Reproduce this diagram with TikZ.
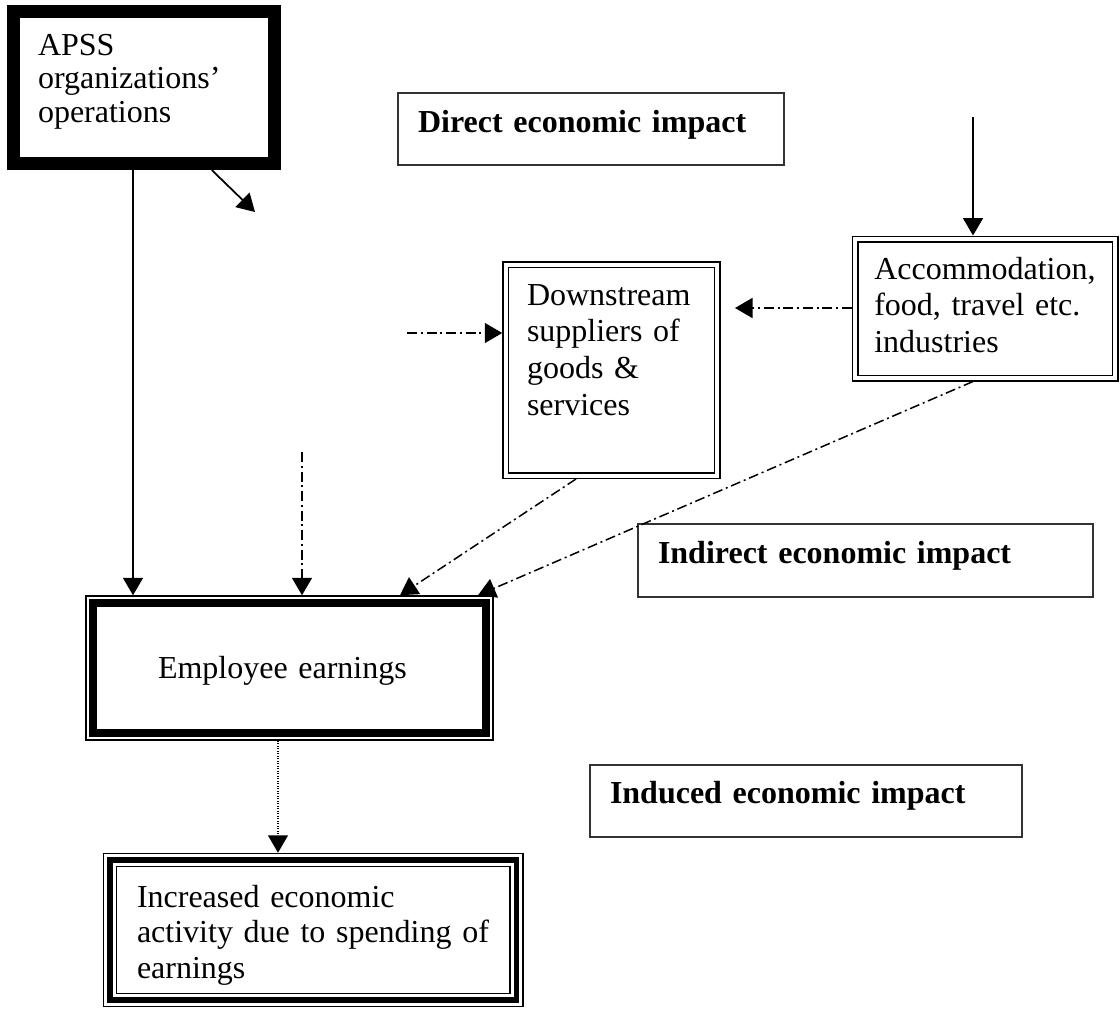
\documentclass[tikz,border=0pt]{standalone}
\usepackage{fontspec}
\setmainfont{Liberation Serif}
\usetikzlibrary{arrows.meta,calc}
\hyphenpenalty=10000
\begin{document}
\begin{tikzpicture}[x=0.4pt,y=-0.4pt,
  box/.style={rectangle, draw=black, anchor=base west, inner ysep=0pt, align=left,
    font=\fontsize{12.8pt}{14.6pt}\selectfont},
  lbl/.style={box, draw=black!80, line width=0.6pt, inner xsep=8pt,
    font=\fontsize{12.8pt}{14.6pt}\selectfont\bfseries},
  conn/.style={line width=0.7pt, -{Triangle[length=7pt,width=8pt]}},
  dd/.style={conn, line width=0.6pt, dash pattern=on 4pt off 1.5pt on 0.8pt off 1.5pt},
  dotconn/.style={conn, line width=0.6pt, dash pattern=on 0.4pt off 0.6pt}]
\useasboundingbox (0,0) rectangle (1120,1008);

% boxes
\node[box, line width=5.2pt, inner xsep=9.8pt, text width=84.6pt, text height=17.4pt, text depth=43.4pt,
  font=\fontsize{12.8pt}{13.4pt}\selectfont] (apss) at (7,55) {APSS\\organizations'\\operations};

\node[lbl, text width=138.4pt, text height=15.6pt, text depth=13.2pt] (direct) at (397.25,132) {Direct economic impact};

\node[box, double, double distance=1.6pt, line width=0.6pt, outer sep=1.4pt, inner xsep=8.5pt,
  text width=67.6pt, text height=16.1pt, text depth=68.2pt,
  font=\fontsize{12.8pt}{14.7pt}\selectfont] (ds) at (502.25,305) {Downstream\\suppliers of\\goods \&\\services};

\node[box, double, double distance=1.6pt, line width=0.6pt, outer sep=1.4pt, inner xsep=7.6pt,
  text width=88.7pt, text height=16pt, text depth=39.6pt,
  font=\fontsize{12.8pt}{14.6pt}\selectfont] (acc) at (851.75,279) {Accommodation,\\food, travel etc.\\industries};

\node[lbl, text width=166pt, text height=15.6pt, text depth=13.6pt] (indirect) at (637.25,563) {Indirect economic impact};

\node[box, line width=0.6pt, inner xsep=28.8pt, text width=105.2pt, text height=32.8pt, text depth=24.8pt] (emp) at (85.25,678) {Employee earnings};
\draw[line width=3pt] ($(emp.north west)+(7.75,7.75)$) rectangle ($(emp.south east)+(-7.75,-7.75)$);

\node[lbl, text width=156.8pt, text height=15.2pt, text depth=13.6pt] (induced) at (589.25,803) {Induced economic impact};

\node[box, line width=0.6pt, inner xsep=13.4pt, text width=141pt, text height=21.4pt, text depth=39.8pt,
  font=\fontsize{12.8pt}{14.2pt}\selectfont] (inc) at (102.75,907) {Increased economic\\activity due to spending of\\earnings};
\draw[line width=2.2pt] ($(inc.north west)+(7.25,7.25)$) rectangle ($(inc.south east)+(-7.25,-7.25)$);
\draw[line width=0.6pt] ($(inc.north west)+(13.75,13.75)$) rectangle ($(inc.south east)+(-13.75,-13.75)$);

% free ends / guide coordinates
\coordinate (p1) at (255,212);
\coordinate (c1) at (133,300);
\coordinate (c2) at (973,117);
\coordinate (c3) at (735,308);
\coordinate (c4) at (407,333);
\coordinate (c5) at (576,478);
\coordinate (c6) at (400,596);
\coordinate (c7) at (478,596);
\coordinate (c8) at (302,452);
\coordinate (c9) at (278,800);

% connectors
\draw[conn] ($(apss.south)+(68,0)$) -- (p1);
\draw[conn] (apss.south -| c1) -- (emp.north -| c1);
\draw[conn] (c2) -- (acc.north -| c2);
\draw[dd] (acc.west |- c3) -- (c3);
\draw[dd] (c4) -- (ds.west |- c4);
\draw[dd] (ds.south -| c5) -- (emp.north -| c6);
\draw[dd] (acc.south -| c2) -- (emp.north -| c7);
\draw[dd] (c8) -- (emp.north -| c8);
\draw[dotconn] (emp.south -| c9) -- (inc.north -| c9);
\end{tikzpicture}
\end{document}
